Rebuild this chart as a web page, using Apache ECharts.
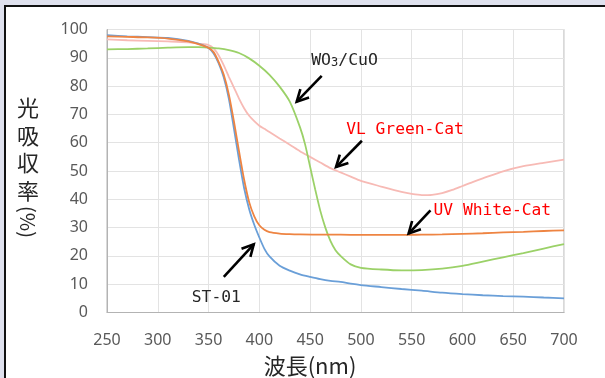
<!DOCTYPE html>
<html>
<head>
<meta charset="utf-8">
<script src="https://cdn.jsdelivr.net/npm/echarts@6/dist/echarts.min.js"></script>
<style>
html,body{margin:0;padding:0;background:#fff;}
#c{width:605px;height:378px;}
</style>
</head>
<body>
<div id="c"></div>
<script>
// Wavelength (nm) and absorptance (%) per sample
const stWl  = [250,270,290,310,330,340,350,355,360,365,370,375,380,385,390,395,400,405,410,420,430,440,450,460,470,480,490,500,520,540,560,580,600,620,640,660,680,700];
const stVal = [98,97.6,97.3,97,96,95,93.5,91.5,88,83,75.5,65,54,44,36.5,31,26.5,22.5,19.8,16.5,14.8,13.5,12.6,11.8,11.2,10.8,10.2,9.7,9,8.3,7.7,7,6.5,6.1,5.8,5.6,5.3,5];

const uvWl  = [250,270,290,310,330,340,350,355,360,365,370,375,380,385,390,395,400,405,410,420,430,440,460,480,500,520,540,560,580,600,620,640,660,680,700];
const uvVal = [97.6,97.4,97.2,96.8,95.8,94.8,93.5,92,88.5,84,77,67.5,57,47,39,34,30.8,29.2,28.4,27.9,27.7,27.6,27.5,27.5,27.4,27.4,27.4,27.5,27.6,27.8,28,28.3,28.5,28.8,29];

const vlWl  = [250,270,290,310,330,340,350,355,360,365,370,375,380,385,390,395,400,405,410,420,430,440,450,460,470,480,490,500,520,540,550,560,570,580,590,600,610,620,640,660,680,700];
const vlVal = [96.5,96.2,96,95.8,95.5,95,94.5,93.3,90.8,87.3,83.3,79.5,75.6,72.2,69.5,67.6,66,64.9,63.8,61.5,59.3,57,55,53,51,49.5,48,46.5,44.5,42.6,41.9,41.5,41.6,42.2,43.3,44.7,46.1,47.4,49.9,51.7,52.9,54];

const woWl  = [250,270,290,310,330,340,350,360,370,380,390,400,410,420,430,440,445,450,455,460,465,470,475,480,490,500,520,540,560,580,600,620,640,660,680,700];
const woVal = [93,93.1,93.3,93.6,93.8,93.8,93.6,93.3,92.7,91.7,89.8,87.2,84,79.8,74.5,65.5,59.5,51.5,43.5,36,30,25.3,22,20,17,15.8,15.2,14.9,15,15.5,16.5,18,19.5,21,22.6,24.2];

const xTicks = {min:250, max:700, step:50};
const yTicks = {min:0, max:100, step:10};

// Annotations in data coordinates: label anchor, arrow start, arrow end
const notes = [
  {text:'WO3/CuO', rich:true, color:'#262626', at:[451,89], from:[461.4,83.6], to:[436.8,74.5]},
  {text:'VL Green-Cat', color:'#ff0000', at:[485.5,64.4], from:[501,60.7], to:[475.5,51.4]},
  {text:'UV White-Cat', color:'#ff0000', at:[571.5,36], from:[568.5,36.1], to:[547,27.9]},
  {text:'ST-01', color:'#262626', at:[333.5,5.3], from:[365,12.6], to:[394.5,24.1]}
];

function pairs(w,v){return w.map((x,i)=>[x,v[i]]);}

const chart = echarts.init(document.getElementById('c'));
const lineSeries = (name, w, v, color) => ({
  name, type:'line', data:pairs(w,v), showSymbol:false, smooth:0.25,
  lineStyle:{color, width:1.8}, itemStyle:{color}, animation:false
});

chart.setOption({
  animation:false,
  backgroundColor:'#ffffff',
  grid:{left:107, right:41, top:29.5, bottom:65.5, show:true, borderColor:'#b3b3b3', borderWidth:1},
  xAxis:{type:'value', min:xTicks.min, max:xTicks.max, interval:xTicks.step,
    axisLine:{show:true, lineStyle:{color:'#b3b3b3'}}, axisTick:{show:false},
    splitLine:{show:true, lineStyle:{color:'#e3e3e3'}},
    axisLabel:{color:'#595959', fontSize:16, fontFamily:'Noto Sans', margin:20}},
  yAxis:{type:'value', min:yTicks.min, max:yTicks.max, interval:yTicks.step,
    axisLine:{show:true, lineStyle:{color:'#b3b3b3'}}, axisTick:{show:false},
    splitLine:{show:true, lineStyle:{color:'#e3e3e3'}},
    axisLabel:{color:'#595959', fontSize:16, fontFamily:'Noto Sans', margin:19}},
  series:[
    lineSeries('VL Green-Cat', vlWl, vlVal, '#f7bab5'),
    lineSeries('WO3/CuO', woWl, woVal, '#9bd168'),
    lineSeries('ST-01', stWl, stVal, '#6a9fd8'),
    lineSeries('UV White-Cat', uvWl, uvVal, '#ee8442')
  ]
});

function arrowEls(p0, p1){
  const dx=p1[0]-p0[0], dy=p1[1]-p0[1];
  const L=Math.hypot(dx,dy), ux=dx/L, uy=dy/L;
  const h=13, a=Math.PI/6.5;
  const r=(ang)=>[p1[0]-h*(ux*Math.cos(ang)-uy*Math.sin(ang)), p1[1]-h*(ux*Math.sin(ang)+uy*Math.cos(ang))];
  return [
    {type:'polyline', shape:{points:[p0,p1]}, style:{stroke:'#000', lineWidth:2.6, fill:null}, z:20},
    {type:'polyline', shape:{points:[r(a),p1,r(-a)]}, style:{stroke:'#000', lineWidth:2.6, fill:null, lineJoin:'miter'}, z:20}
  ];
}

const g = [];
// window frame
g.push({type:'rect', shape:{x:0,y:0,width:605,height:5}, style:{fill:'#dfe1ee'}, z:1});
g.push({type:'rect', shape:{x:0,y:0,width:4,height:378}, style:{fill:'#dfe1ee'}, z:1});
g.push({type:'rect', shape:{x:4,y:5,width:601,height:2}, style:{fill:'#111'}, z:2});
g.push({type:'rect', shape:{x:4,y:5,width:2,height:373}, style:{fill:'#111'}, z:2});

notes.forEach(n=>{
  const a = chart.convertToPixel({gridIndex:0}, n.at);
  const p0 = chart.convertToPixel({gridIndex:0}, n.from);
  const p1 = chart.convertToPixel({gridIndex:0}, n.to);
  if(n.rich){
    g.push({type:'text', x:a[0], y:a[1], z:20, style:{
      text:'{a|WO}{b|3}{a|/CuO}', verticalAlign:'middle', align:'left',
      rich:{a:{fontSize:16.5, fontFamily:'DejaVu Sans Mono', fill:n.color},
            b:{fontSize:12, fontFamily:'DejaVu Sans Mono', fill:n.color, padding:[5,0,0,0]}}
    }});
  } else {
    g.push({type:'text', x:a[0], y:a[1], z:20, style:{text:n.text, fontSize:16.3, fontFamily:'DejaVu Sans Mono', fill:n.color, verticalAlign:'middle', align:'left'}});
  }
  arrowEls(p0,p1).forEach(e=>g.push(e));
});

// axis titles
g.push({type:'text', x:310, y:366, z:20, style:{text:'波長(nm)', fontSize:22, fontFamily:'Noto Sans CJK JP', fill:'#262626', align:'center', verticalAlign:'middle'}});
g.push({type:'text', x:28, y:149, z:20, style:{text:'光\n吸\n収\n率', fontSize:22, lineHeight:27.5, fontFamily:'Noto Sans CJK JP', fill:'#262626', align:'center', verticalAlign:'middle'}});
g.push({type:'text', x:28, y:222, rotation:-Math.PI/2, z:20, style:{text:'(%)', fontSize:20, fontFamily:'Noto Sans CJK JP', fill:'#262626', align:'center', verticalAlign:'middle'}});

chart.setOption({graphic:g});
</script>
</body>
</html>
